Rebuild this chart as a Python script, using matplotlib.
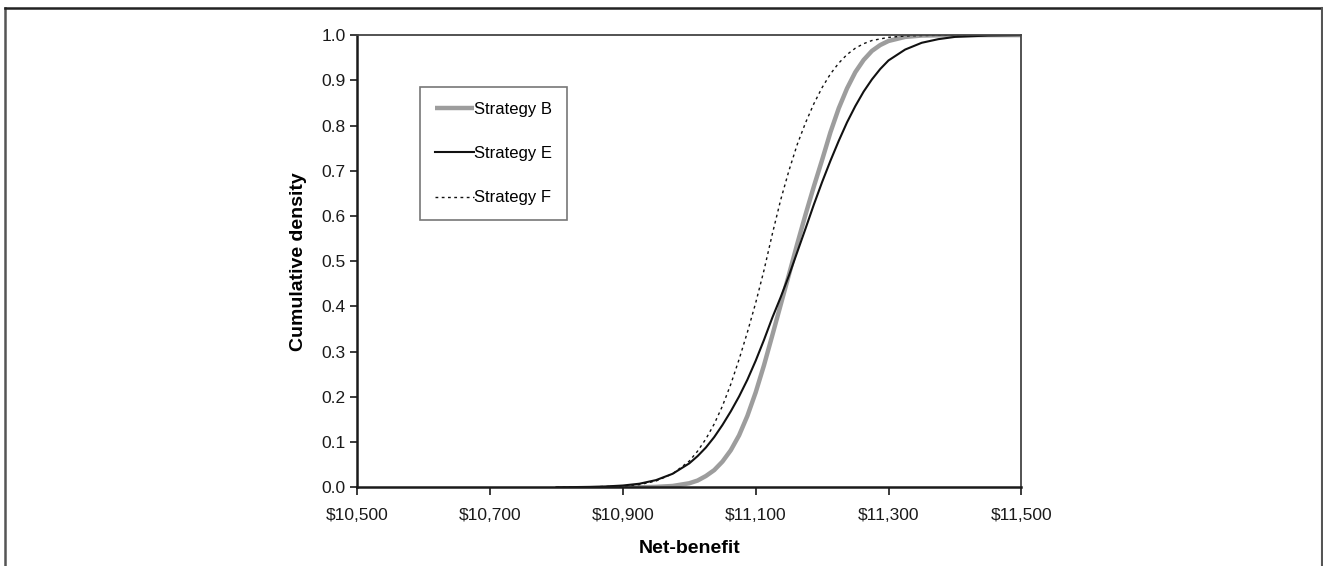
import matplotlib
matplotlib.use("Agg")
import matplotlib.pyplot as plt
from matplotlib.lines import Line2D
from matplotlib.ticker import FuncFormatter

plt.rcParams["font.family"] = ["Liberation Sans", "DejaVu Sans"]

# Values (net-benefit in $, cumulative density)
b_x = [10880, 10925, 10950, 10975, 11000, 11012.5, 11025, 11037.5, 11050, 11062.5, 11075,
       11087.5, 11100, 11112.5, 11125, 11137.5, 11150, 11162.5, 11175, 11187.5, 11200,
       11212.5, 11225, 11237.5, 11250, 11262.5, 11275, 11287.5, 11300, 11325, 11350,
       11400, 11500]
b_y = [0.000, 0.000, 0.001, 0.003, 0.009, 0.015, 0.025, 0.038, 0.057, 0.082, 0.115,
       0.158, 0.210, 0.270, 0.336, 0.403, 0.470, 0.538, 0.603, 0.665, 0.724,
       0.785, 0.838, 0.882, 0.918, 0.945, 0.965, 0.978, 0.987, 0.996, 0.999,
       1.000, 1.000]

e_x = [10800, 10850, 10875, 10900, 10925, 10950, 10975, 11000, 11012.5, 11025, 11037.5,
       11050, 11062.5, 11075, 11087.5, 11100, 11112.5, 11125, 11137.5, 11150, 11162.5,
       11175, 11187.5, 11200, 11212.5, 11225, 11237.5, 11250, 11262.5, 11275, 11287.5,
       11300, 11325, 11350, 11375, 11400, 11450, 11500]
e_y = [0.000, 0.001, 0.002, 0.004, 0.008, 0.016, 0.030, 0.053, 0.069, 0.088, 0.111,
       0.138, 0.168, 0.201, 0.238, 0.280, 0.326, 0.375, 0.420, 0.468, 0.520,
       0.572, 0.625, 0.675, 0.722, 0.766, 0.807, 0.843, 0.875, 0.902, 0.925,
       0.944, 0.968, 0.983, 0.991, 0.996, 0.999, 1.000]

f_x = [10800, 10850, 10900, 10925, 10950, 10975, 11000, 11012.5, 11025, 11037.5, 11050,
       11062.5, 11075, 11087.5, 11100, 11112.5, 11125, 11137.5, 11150, 11162.5, 11175,
       11187.5, 11200, 11212.5, 11225, 11237.5, 11250, 11262.5, 11275, 11300, 11325,
       11350, 11400, 11500]
f_y = [0.000, 0.001, 0.003, 0.006, 0.014, 0.030, 0.058, 0.080, 0.107, 0.140, 0.180,
       0.228, 0.283, 0.343, 0.408, 0.480, 0.560, 0.635, 0.700, 0.758, 0.806,
       0.848, 0.884, 0.914, 0.938, 0.957, 0.971, 0.981, 0.988, 0.995, 0.998,
       0.999, 1.000, 1.000]

labels = ["Strategy B", "Strategy E", "Strategy F"]
x_ticks = [10500, 10700, 10900, 11100, 11300, 11500]
y_ticks = [0.0, 0.1, 0.2, 0.3, 0.4, 0.5, 0.6, 0.7, 0.8, 0.9, 1.0]

fig = plt.figure(figsize=(13.23, 5.66), dpi=100)
ax = fig.add_axes([0.27, 0.139, 0.502, 0.799])

ax.plot(b_x, b_y, color="#9d9d9d", lw=3.2, label=labels[0], solid_capstyle="butt")
ax.plot(e_x, e_y, color="#111111", lw=1.5, label=labels[1])
ax.plot(f_x, f_y, color="#111111", lw=1.0, ls=(0, (2, 2.5)), label=labels[2])

ax.set_xlim(10500, 11500)
ax.set_ylim(0, 1.0)
ax.set_xticks(x_ticks)
ax.set_yticks(y_ticks)
ax.xaxis.set_major_formatter(FuncFormatter(lambda v, p: f"${v:,.0f}"))
ax.yaxis.set_major_formatter(FuncFormatter(lambda v, p: f"{v:.1f}"))
ax.tick_params(direction="out", length=5, width=1.2, labelsize=12.5, colors="#1a1a1a")
ax.tick_params(axis="x", pad=9, length=6)

for side in ["left", "bottom"]:
    ax.spines[side].set_linewidth(1.8)
    ax.spines[side].set_color("#1a1a1a")
for side in ["top", "right"]:
    ax.spines[side].set_linewidth(1.3)
    ax.spines[side].set_color("#444444")

ax.set_xlabel("Net-benefit", fontsize=14, fontweight="bold", labelpad=12)
ax.set_ylabel("Cumulative density", fontsize=14, fontweight="bold", labelpad=10)

leg = ax.legend(loc="upper left", bbox_to_anchor=(0.095, 0.885), frameon=True, fancybox=False,
                fontsize=12, handlelength=2.3, handletextpad=0.0, labelspacing=1.75,
                borderpad=0.9, borderaxespad=0)
leg.get_frame().set_edgecolor("#555555")
leg.get_frame().set_linewidth(1.2)

# Border around the figure (left, top, right)
fig.add_artist(Line2D([0.004, 0.004], [0, 0.986], transform=fig.transFigure, color="#555555", lw=1.8))
fig.add_artist(Line2D([0.004, 0.9995], [0.986, 0.986], transform=fig.transFigure, color="#222222", lw=1.8))
fig.add_artist(Line2D([0.9995, 0.9995], [0, 0.986], transform=fig.transFigure, color="#555555", lw=1.5))

fig.savefig("out.png", dpi=100)
